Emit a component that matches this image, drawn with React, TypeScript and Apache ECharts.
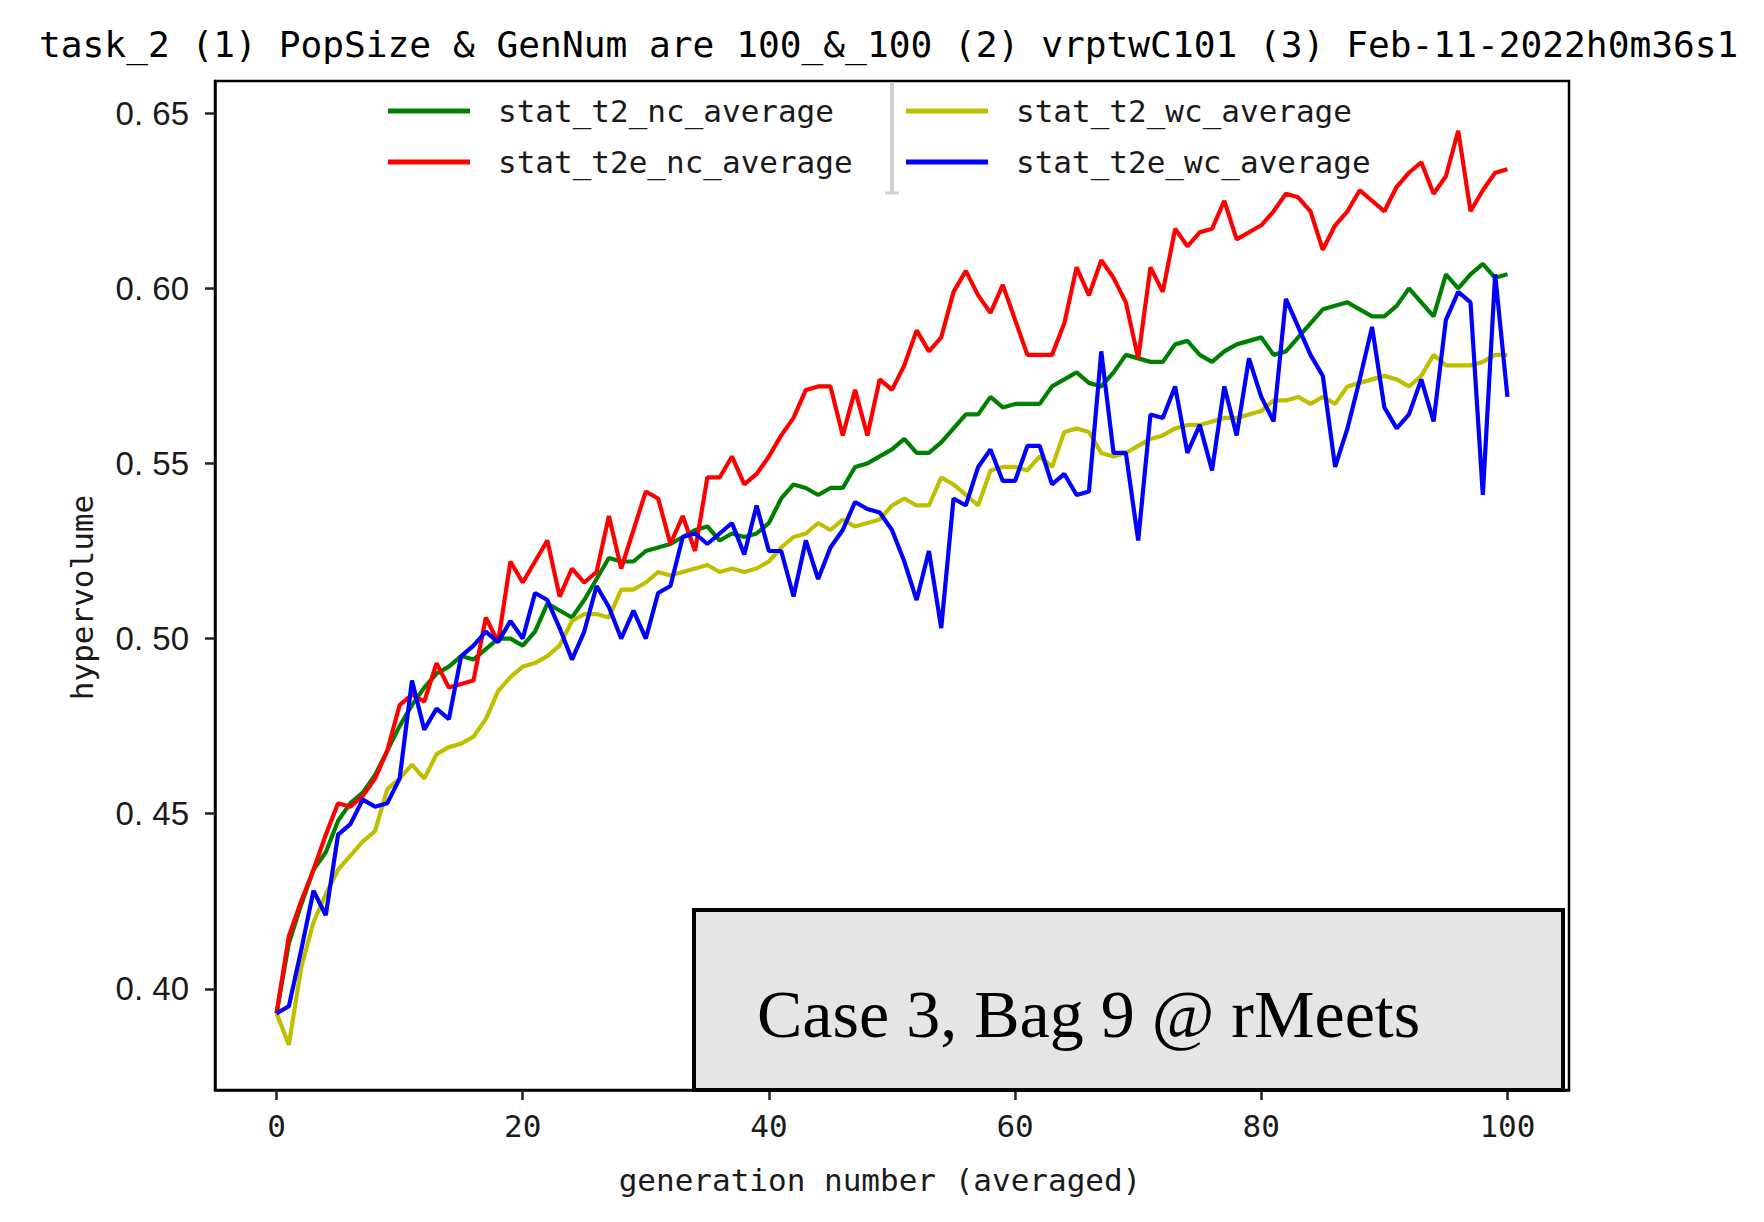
import React, { useEffect, useRef } from "react";
import * as echarts from "echarts";

const titleText =
  "task_2 (1) PopSize & GenNum are 100_&_100 (2) vrptwC101 (3) Feb-11-2022h0m36s1";
const xAxisName = "generation number (averaged)";
const yAxisName = "hypervolume";
const boxText = "Case 3, Bag 9 @ rMeets";

const xTicks = [0, 20, 40, 60, 80, 100];
const yTicks = [0.4, 0.45, 0.5, 0.55, 0.6, 0.65];

const seriesNames = [
  "stat_t2_nc_average",
  "stat_t2e_nc_average",
  "stat_t2_wc_average",
  "stat_t2e_wc_average",
];
const seriesColors = ["#008000", "#ff0000", "#bfbf00", "#0000ff"];

const t2NcAverage = [
  0.393, 0.413, 0.424, 0.434, 0.439, 0.448, 0.453, 0.456, 0.461, 0.468,
  0.475, 0.481, 0.486, 0.49, 0.492, 0.495, 0.494, 0.497, 0.5, 0.5,
  0.498, 0.502, 0.51, 0.508, 0.506, 0.511, 0.517, 0.523, 0.522, 0.522,
  0.525, 0.526, 0.527, 0.529, 0.531, 0.532, 0.528, 0.53, 0.529, 0.53,
  0.533, 0.54, 0.544, 0.543, 0.541, 0.543, 0.543, 0.549, 0.55, 0.552,
  0.554, 0.557, 0.553, 0.553, 0.556, 0.56, 0.564, 0.564, 0.569, 0.566,
  0.567, 0.567, 0.567, 0.572, 0.574, 0.576, 0.573, 0.572, 0.576, 0.581,
  0.58, 0.579, 0.579, 0.584, 0.585, 0.581, 0.579, 0.582, 0.584, 0.585,
  0.586, 0.581, 0.582, 0.586, 0.59, 0.594, 0.595, 0.596, 0.594, 0.592,
  0.592, 0.595, 0.6, 0.596, 0.592, 0.604, 0.6, 0.604, 0.607, 0.603,
  0.604,
];

const t2eNcAverage = [
  0.393, 0.415, 0.425, 0.434, 0.444, 0.453, 0.452, 0.455, 0.46, 0.468,
  0.481, 0.484, 0.482, 0.493, 0.486, 0.487, 0.488, 0.506, 0.499, 0.522,
  0.516, 0.522, 0.528, 0.512, 0.52, 0.516, 0.519, 0.535, 0.52, 0.531,
  0.542, 0.54, 0.527, 0.535, 0.525, 0.546, 0.546, 0.552, 0.544, 0.547,
  0.552, 0.558, 0.563, 0.571, 0.572, 0.572, 0.558, 0.571, 0.558, 0.574,
  0.571, 0.578, 0.588, 0.582, 0.586, 0.599, 0.605, 0.598, 0.593, 0.601,
  0.591, 0.581, 0.581, 0.581, 0.59, 0.606, 0.598, 0.608, 0.603, 0.596,
  0.58, 0.606, 0.599, 0.617, 0.612, 0.616, 0.617, 0.625, 0.614, 0.616,
  0.618, 0.622, 0.627, 0.626, 0.622, 0.611, 0.618, 0.622, 0.628, 0.625,
  0.622, 0.629, 0.633, 0.636, 0.627, 0.632, 0.645, 0.622, 0.628, 0.633,
  0.634,
];

const t2WcAverage = [
  0.393, 0.384, 0.406, 0.419, 0.427, 0.434, 0.438, 0.442, 0.445, 0.457,
  0.46, 0.464, 0.46, 0.467, 0.469, 0.47, 0.472, 0.477, 0.485, 0.489,
  0.492, 0.493, 0.495, 0.498, 0.505, 0.507, 0.507, 0.506, 0.514, 0.514,
  0.516, 0.519, 0.518, 0.519, 0.52, 0.521, 0.519, 0.52, 0.519, 0.52,
  0.522, 0.526, 0.529, 0.53, 0.533, 0.531, 0.534, 0.532, 0.533, 0.534,
  0.538, 0.54, 0.538, 0.538, 0.546, 0.544, 0.541, 0.538, 0.548, 0.549,
  0.549, 0.548, 0.552, 0.549, 0.559, 0.56, 0.559, 0.553, 0.552, 0.553,
  0.555, 0.557, 0.558, 0.56, 0.561, 0.561, 0.562, 0.563, 0.563, 0.564,
  0.565, 0.568, 0.568, 0.569, 0.567, 0.569, 0.567, 0.572, 0.573, 0.574,
  0.575, 0.574, 0.572, 0.575, 0.581, 0.578, 0.578, 0.578, 0.579, 0.581,
  0.581,
];

const t2eWcAverage = [
  0.393, 0.395, 0.411, 0.428, 0.421, 0.444, 0.447, 0.454, 0.452, 0.453,
  0.46, 0.488, 0.474, 0.48, 0.477, 0.495, 0.498, 0.502, 0.499, 0.505,
  0.5, 0.513, 0.511, 0.503, 0.494, 0.502, 0.515, 0.509, 0.5, 0.508,
  0.5, 0.513, 0.515, 0.529, 0.53, 0.527, 0.53, 0.533, 0.524, 0.538,
  0.525, 0.525, 0.512, 0.528, 0.517, 0.526, 0.531, 0.539, 0.537, 0.536,
  0.531, 0.522, 0.511, 0.525, 0.503, 0.54, 0.538, 0.549, 0.554, 0.545,
  0.545, 0.555, 0.555, 0.544, 0.547, 0.541, 0.542, 0.582, 0.553, 0.553,
  0.528, 0.564, 0.563, 0.572, 0.553, 0.561, 0.548, 0.572, 0.558, 0.58,
  0.569, 0.562, 0.597, 0.589, 0.581, 0.575, 0.549, 0.56, 0.574, 0.589,
  0.566, 0.56, 0.564, 0.574, 0.562, 0.591, 0.599, 0.596, 0.541, 0.604,
  0.569,
];

const seriesValues = [t2NcAverage, t2eNcAverage, t2WcAverage, t2eWcAverage];

const MONO = "DejaVu Sans Mono";

export default function App() {
  const ref = useRef<HTMLDivElement>(null);

  useEffect(() => {
    if (!ref.current) return;
    const chart = echarts.init(ref.current, undefined, { renderer: "svg" });

    const legendText = {
      fontFamily: MONO,
      fontSize: 31,
      color: "#1a1a1a",
      lineHeight: 36,
      padding: [0, 0, 0, 23],
    };

    const option: any = {
      animation: false,
      backgroundColor: "#ffffff",
      title: {
        text: titleText,
        left: 39,
        top: 26,
        padding: 0,
        textStyle: {
          fontFamily: MONO,
          fontSize: 36.2,
          fontWeight: "normal",
          color: "#000",
        },
      },
      legend: [
        {
          data: [seriesNames[0], seriesNames[1]],
          orient: "vertical",
          left: 388,
          top: 93,
          padding: 0,
          itemGap: 15,
          itemWidth: 82,
          itemHeight: 5,
          icon: "rect",
          textStyle: legendText,
        },
        {
          data: [seriesNames[2], seriesNames[3]],
          orient: "vertical",
          left: 906,
          top: 93,
          padding: 0,
          itemGap: 15,
          itemWidth: 82,
          itemHeight: 5,
          icon: "rect",
          textStyle: legendText,
        },
      ],
      grid: {
        left: 215,
        top: 81,
        width: 1354,
        height: 1009,
        show: true,
        borderColor: "#000",
        borderWidth: 2.5,
        backgroundColor: "transparent",
      },
      xAxis: {
        type: "value",
        min: -5,
        max: 105,
        name: xAxisName,
        nameLocation: "middle",
        nameGap: 74,
        nameTextStyle: {
          fontFamily: MONO,
          fontSize: 31,
          color: "#1a1a1a",
          padding: [0, 24, 0, 0],
        },
        axisLine: {
          show: true,
          onZero: false,
          lineStyle: { color: "#000", width: 2.5 },
        },
        axisTick: {
          show: true,
          inside: false,
          length: 10,
          customValues: xTicks,
          lineStyle: { color: "#222", width: 2.5 },
        },
        axisLabel: {
          customValues: xTicks,
          margin: 20,
          fontFamily: MONO,
          fontSize: 31,
          color: "#1a1a1a",
        },
        splitLine: { show: false },
      },
      yAxis: {
        type: "value",
        min: 0.3711,
        max: 0.6592,
        name: yAxisName,
        nameLocation: "middle",
        nameGap: 118,
        nameRotate: 90,
        nameTextStyle: {
          fontFamily: MONO,
          fontSize: 31,
          color: "#1a1a1a",
          padding: [0, 24, 0, 0],
        },
        axisLine: {
          show: true,
          onZero: false,
          lineStyle: { color: "#000", width: 2.5 },
        },
        axisTick: {
          show: true,
          inside: false,
          length: 10,
          customValues: yTicks,
          lineStyle: { color: "#222", width: 2.5 },
        },
        axisLabel: {
          customValues: yTicks,
          margin: 26,
          fontFamily: "Liberation Sans",
          fontSize: 33,
          color: "#1a1a1a",
          formatter: (v: number) => v.toFixed(2).replace(".", ". "),
        },
        splitLine: { show: false },
      },
      series: seriesNames.map((name, k) => ({
        name,
        type: "line",
        showSymbol: false,
        symbol: "none",
        color: seriesColors[k],
        lineStyle: { color: seriesColors[k], width: 4.2 },
        data: seriesValues[k].map((v, i) => [i, v]),
        z: 2 + k,
      })),
      graphic: [
        {
          type: "line",
          z: 50,
          shape: { x1: 892, y1: 82, x2: 892, y2: 193 },
          style: { stroke: "#d0d0d0", lineWidth: 4 },
        },
        {
          type: "line",
          z: 50,
          shape: { x1: 885, y1: 193, x2: 899, y2: 193 },
          style: { stroke: "#d0d0d0", lineWidth: 3 },
        },
        {
          type: "rect",
          z: 100,
          shape: { x: 694, y: 910, width: 869, height: 180 },
          style: { fill: "#e5e5e5", stroke: "#000", lineWidth: 4 },
        },
        {
          type: "text",
          z: 101,
          x: 757,
          y: 1014,
          style: {
            text: boxText,
            font: '68px "Liberation Serif"',
            fill: "#000",
            align: "left",
            verticalAlign: "middle",
          },
        },
      ],
    };

    chart.setOption(option);
    return () => chart.dispose();
  }, []);

  return (
    <div
      ref={ref}
      style={{ position: "fixed", left: 0, top: 0, width: 1764, height: 1222 }}
    />
  );
}
